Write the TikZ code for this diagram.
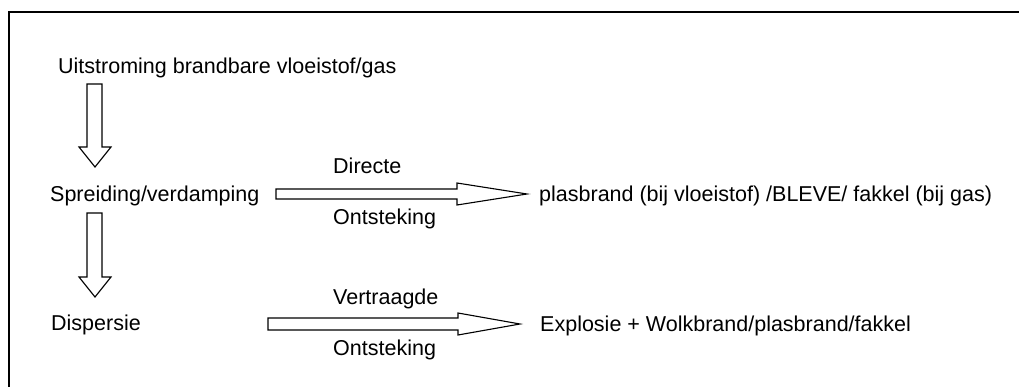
\documentclass[tikz,border=0pt]{standalone}
\usepackage{fontspec}
\setmainfont{Liberation Sans}
\begin{document}
\begin{tikzpicture}[x=1pt,y=-1pt,
  lbl/.style={anchor=base west,inner sep=0pt,font=\fontsize{21.5}{25}\selectfont},
  fat/.style={draw=black,line width=1.1pt,fill=white,line join=miter},
  frame/.style={draw=black,line width=2pt}]
\useasboundingbox (0,0) rectangle (1019,387);
% frame
\draw[frame] (1019,12) -- (9,12) -- (9,390);
% text nodes
\node[lbl] (uit) at (58,74) {Uitstroming brandbare vloeistof/gas};
\node[lbl] (spr) at (50,202) {Spreiding/verdamping};
\node[lbl] (dis) at (51,330) {Dispersie};
\node[lbl] (dir) at (333,174) {Directe};
\node[lbl] (ont1) at (333,225) {Ontsteking};
\node[lbl] (ver) at (333,304) {Vertraagde};
\node[lbl] (ont2) at (333,355) {Ontsteking};
\node[lbl] (pls) at (539,202) {plasbrand (bij vloeistof) /BLEVE/ fakkel (bij gas)};
\node[lbl] (exp) at (540,331) {Explosie + Wolkbrand/plasbrand/fakkel};
% vertical fat arrows
\draw[fat] (87,84) -- (102,84) -- (102,147) -- (111,147) -- (95,167) -- (79,147) -- (87,147) -- cycle;
\draw[fat] (87,213) -- (102,213) -- (102,277) -- (111,277) -- (95,297) -- (79,277) -- (87,277) -- cycle;
% horizontal fat arrows
\draw[fat] (276,189) -- (457,189) -- (457,183) -- (527,194) -- (457,205) -- (457,199) -- (276,199) -- cycle;
\draw[fat] (268,318) -- (458,318) -- (458,313) -- (520,324) -- (458,335) -- (458,330) -- (268,330) -- cycle;
\end{tikzpicture}
\end{document}
